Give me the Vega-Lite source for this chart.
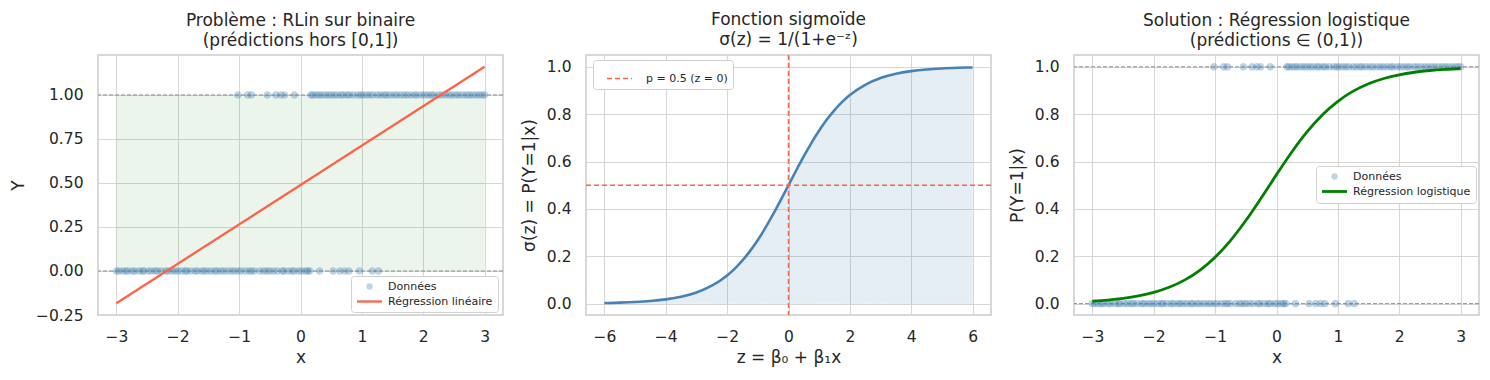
{
  "$schema": "https://vega.github.io/schema/vega-lite/v6.json",
  "padding": {"left": 8, "top": 10, "right": 5, "bottom": 5},
  "background": "white",
  "spacing": 14,
  "datasets": {
    "obs": [
      {"x":-3.0,"y":0},{"x":-2.96,"y":0},{"x":-2.9,"y":0},{"x":-2.85,"y":0},{"x":-2.81,"y":0},{"x":-2.74,"y":0},{"x":-2.7,"y":0},{"x":-2.63,"y":0},{"x":-2.58,"y":0},{"x":-2.55,"y":0},
      {"x":-2.48,"y":0},{"x":-2.43,"y":0},{"x":-2.37,"y":0},{"x":-2.33,"y":0},{"x":-2.27,"y":0},{"x":-2.2,"y":0},{"x":-2.16,"y":0},{"x":-2.1,"y":0},{"x":-2.05,"y":0},{"x":-2.0,"y":0},
      {"x":-1.94,"y":0},{"x":-1.88,"y":0},{"x":-1.85,"y":0},{"x":-1.79,"y":0},{"x":-1.72,"y":0},{"x":-1.68,"y":0},{"x":-1.61,"y":0},{"x":-1.57,"y":0},{"x":-1.52,"y":0},{"x":-1.46,"y":0},
      {"x":-1.4,"y":0},{"x":-1.36,"y":0},{"x":-1.3,"y":0},{"x":-1.25,"y":0},{"x":-1.19,"y":0},{"x":-1.13,"y":0},{"x":-1.08,"y":0},{"x":-1.02,"y":0},{"x":-0.97,"y":0},{"x":-0.9,"y":0},
      {"x":-0.84,"y":0},{"x":-0.8,"y":0},{"x":-0.75,"y":0},{"x":-0.66,"y":0},{"x":-0.6,"y":0},{"x":-0.55,"y":0},{"x":-0.5,"y":0},{"x":-0.44,"y":0},{"x":-0.38,"y":0},{"x":-0.3,"y":0},
      {"x":-0.27,"y":0},{"x":-0.2,"y":0},{"x":-0.14,"y":0},{"x":-0.1,"y":0},{"x":-0.03,"y":0},{"x":0.02,"y":0},{"x":0.08,"y":0},{"x":0.12,"y":0},{"x":0.15,"y":0},{"x":0.31,"y":0},
      {"x":0.53,"y":0},{"x":0.64,"y":0},{"x":0.72,"y":0},{"x":0.79,"y":0},{"x":0.96,"y":0},{"x":1.17,"y":0},{"x":1.27,"y":0},
      {"x":-1.02,"y":1},{"x":-0.86,"y":1},{"x":-0.8,"y":1},{"x":-0.54,"y":1},{"x":-0.4,"y":1},{"x":-0.32,"y":1},{"x":-0.26,"y":1},{"x":-0.1,"y":1},
      {"x":0.17,"y":1},{"x":0.2,"y":1},{"x":0.25,"y":1},{"x":0.3,"y":1},{"x":0.34,"y":1},{"x":0.4,"y":1},{"x":0.45,"y":1},{"x":0.5,"y":1},{"x":0.55,"y":1},{"x":0.6,"y":1},
      {"x":0.66,"y":1},{"x":0.7,"y":1},{"x":0.76,"y":1},{"x":0.8,"y":1},{"x":0.86,"y":1},{"x":0.93,"y":1},{"x":0.98,"y":1},{"x":1.02,"y":1},{"x":1.08,"y":1},{"x":1.13,"y":1},
      {"x":1.18,"y":1},{"x":1.25,"y":1},{"x":1.3,"y":1},{"x":1.36,"y":1},{"x":1.4,"y":1},{"x":1.46,"y":1},{"x":1.52,"y":1},{"x":1.57,"y":1},{"x":1.63,"y":1},{"x":1.69,"y":1},
      {"x":1.74,"y":1},{"x":1.8,"y":1},{"x":1.86,"y":1},{"x":1.9,"y":1},{"x":1.97,"y":1},{"x":2.02,"y":1},{"x":2.08,"y":1},{"x":2.13,"y":1},{"x":2.18,"y":1},{"x":2.25,"y":1},
      {"x":2.3,"y":1},{"x":2.36,"y":1},{"x":2.42,"y":1},{"x":2.47,"y":1},{"x":2.53,"y":1},{"x":2.58,"y":1},{"x":2.64,"y":1},{"x":2.7,"y":1},{"x":2.75,"y":1},{"x":2.8,"y":1},
      {"x":2.86,"y":1},{"x":2.91,"y":1},{"x":2.96,"y":1},{"x":3.0,"y":1}
    ],
    "sigmoid": [
      {"z":-6,"s":0.00247},{"z":-5.5,"s":0.00407},{"z":-5,"s":0.00669},{"z":-4.5,"s":0.01099},{"z":-4,"s":0.01799},{"z":-3.5,"s":0.02931},{"z":-3,"s":0.04743},{"z":-2.5,"s":0.07586},
      {"z":-2,"s":0.1192},{"z":-1.75,"s":0.148},{"z":-1.5,"s":0.1824},{"z":-1.25,"s":0.2227},{"z":-1,"s":0.2689},{"z":-0.75,"s":0.3208},{"z":-0.5,"s":0.3775},{"z":-0.25,"s":0.4378},
      {"z":0,"s":0.5},{"z":0.25,"s":0.5622},{"z":0.5,"s":0.6225},{"z":0.75,"s":0.6792},{"z":1,"s":0.7311},{"z":1.25,"s":0.7773},{"z":1.5,"s":0.8176},{"z":1.75,"s":0.852},
      {"z":2,"s":0.8808},{"z":2.5,"s":0.9241},{"z":3,"s":0.9526},{"z":3.5,"s":0.9707},{"z":4,"s":0.982},{"z":4.5,"s":0.989},{"z":5,"s":0.9933},{"z":5.5,"s":0.9959},{"z":6,"s":0.9975}
    ],
    "logit": [
      {"x":-3,"p":0.01005},{"x":-2.75,"p":0.01488},{"x":-2.5,"p":0.02198},{"x":-2.25,"p":0.03237},{"x":-2,"p":0.04743},{"x":-1.75,"p":0.06897},{"x":-1.5,"p":0.0993},
      {"x":-1.25,"p":0.1409},{"x":-1,"p":0.1962},{"x":-0.75,"p":0.2665},{"x":-0.5,"p":0.3509},{"x":-0.25,"p":0.4458},{"x":0,"p":0.5449},{"x":0.25,"p":0.6405},
      {"x":0.5,"p":0.7261},{"x":0.75,"p":0.7978},{"x":1,"p":0.8545},{"x":1.25,"p":0.8973},{"x":1.5,"p":0.9286},{"x":1.75,"p":0.9508},{"x":2,"p":0.9664},
      {"x":2.25,"p":0.9772},{"x":2.5,"p":0.9846},{"x":2.75,"p":0.9896},{"x":3,"p":0.993}
    ]
  },
  "resolve": {"scale": {"color": "independent", "x": "independent", "y": "independent"}, "legend": {"color": "independent"}},
  "hconcat": [
    {
      "width": 405, "height": 260,
      "title": {"text": ["Problème : RLin sur binaire", "(prédictions hors [0,1])"]},
      "layer": [
        {
          "data": {"values": [{"x1": -3, "x2": 3, "y1": 0, "y2": 1}]},
          "mark": {"type": "rect", "color": "#008000", "opacity": 0.08},
          "encoding": {
            "x": {"field": "x1", "type": "quantitative", "scale": {"domain": [-3.3, 3.3], "nice": false, "zero": false}, "axis": {"values": [-3,-2,-1,0,1,2,3], "format": "d", "title": "x"}},
            "x2": {"field": "x2"},
            "y": {"field": "y1", "type": "quantitative", "scale": {"domain": [-0.25, 1.227], "nice": false, "zero": false}, "axis": {"values": [-0.25,0,0.25,0.5,0.75,1], "format": ".2f", "title": "Y"}},
            "y2": {"field": "y2"}
          }
        },
        {
          "data": {"values": [{"h": 0}, {"h": 1}]},
          "mark": {"type": "rule", "color": "#808080", "strokeWidth": 0.9, "strokeDash": [4, 2]},
          "encoding": {"y": {"field": "h", "type": "quantitative"}}
        },
        {
          "data": {"name": "obs"},
          "mark": {"type": "point", "filled": true, "size": 44, "opacity": 0.35, "stroke": "#4682b4", "strokeWidth": 1},
          "encoding": {
            "x": {"field": "x", "type": "quantitative"},
            "y": {"field": "y", "type": "quantitative"},
            "color": {"datum": "Données"}
          }
        },
        {
          "data": {"values": [{"x": -3, "y": -0.183}, {"x": 3, "y": 1.16}]},
          "mark": {"type": "line", "strokeWidth": 2.3},
          "encoding": {
            "x": {"field": "x", "type": "quantitative"},
            "y": {"field": "y", "type": "quantitative"},
            "color": {"datum": "Régression linéaire", "scale": {"domain": ["Données", "Régression linéaire"], "range": ["#4682b4", "#ff6347"]},
              "legend": {"orient": "none", "legendX": 253, "legendY": 221, "title": null,
                "encode": {"symbols": {"update": {
                  "shape": {"signal": "datum.value === 'Données' ? 'circle' : 'stroke'"},
                  "size": {"signal": "datum.value === 'Données' ? 40 : 625"},
                  "strokeWidth": {"signal": "datum.value === 'Données' ? 0 : 2.3"},
                  "fill": {"signal": "datum.value === 'Données' ? '#4682b4' : 'transparent'"},
                  "stroke": {"signal": "datum.value === 'Données' ? 'transparent' : '#ff6347'"},
                  "opacity": {"signal": "datum.value === 'Données' ? 0.35 : 1"}
                }}}}}
          }
        }
      ]
    },
    {
      "width": 405, "height": 260,
      "title": {"text": ["Fonction sigmoïde", "σ(z) = 1/(1+e⁻ᶻ)"]},
      "layer": [
        {
          "data": {"name": "sigmoid"},
          "mark": {"type": "area", "color": "#4682b4", "opacity": 0.13, "interpolate": "monotone", "stroke": "#4682b4", "strokeWidth": 1, "strokeOpacity": 0.25},
          "encoding": {
            "x": {"field": "z", "type": "quantitative", "scale": {"domain": [-6.6, 6.6], "nice": false, "zero": false}, "axis": {"values": [-6,-4,-2,0,2,4,6], "format": "d", "title": "z = β₀ + β₁x"}},
            "y": {"field": "s", "type": "quantitative", "scale": {"domain": [-0.048, 1.05], "nice": false, "zero": false}, "axis": {"values": [0,0.2,0.4,0.6,0.8,1], "format": ".1f", "title": "σ(z) = P(Y=1|x)"}},
            "y2": {"datum": 0}
          }
        },
        {
          "data": {"name": "sigmoid"},
          "mark": {"type": "line", "color": "#4682b4", "strokeWidth": 2.6, "interpolate": "monotone"},
          "encoding": {
            "x": {"field": "z", "type": "quantitative"},
            "y": {"field": "s", "type": "quantitative"}
          }
        },
        {
          "data": {"values": [{"v": 0}]},
          "mark": {"type": "rule", "color": "#ff6347", "strokeWidth": 1.5, "strokeDash": [5, 3]},
          "encoding": {"x": {"field": "v", "type": "quantitative"}}
        },
        {
          "data": {"values": [{"h": 0.5}]},
          "mark": {"type": "rule", "strokeWidth": 1.5, "strokeDash": [5, 3]},
          "encoding": {
            "y": {"field": "h", "type": "quantitative"},
            "color": {"datum": "p = 0.5 (z = 0)", "scale": {"range": ["#ff6347"]},
              "legend": {"orient": "none", "legendX": 7, "legendY": 5, "title": null, "symbolType": "stroke", "symbolDash": [5, 3], "symbolStrokeWidth": 1.5, "symbolStrokeColor": "#ff6347",
                "encode": {"symbols": {"update": {"size": {"value": 625}, "strokeWidth": {"value": 1.5}, "stroke": {"value": "#ff6347"}, "strokeDash": {"value": [5, 3]}}}}}}
          }
        }
      ]
    },
    {
      "width": 405, "height": 260,
      "title": {"text": ["Solution : Régression logistique", "(prédictions ∈ (0,1))"]},
      "layer": [
        {
          "data": {"values": [{"h": 0}, {"h": 1}]},
          "mark": {"type": "rule", "color": "#808080", "strokeWidth": 0.9, "strokeDash": [4, 2]},
          "encoding": {"y": {"field": "h", "type": "quantitative", "scale": {"domain": [-0.048, 1.05], "nice": false, "zero": false}, "axis": {"values": [0,0.2,0.4,0.6,0.8,1], "format": ".1f", "title": "P(Y=1|x)"}}}
        },
        {
          "data": {"name": "obs"},
          "mark": {"type": "point", "filled": true, "size": 44, "opacity": 0.35, "stroke": "#4682b4", "strokeWidth": 1},
          "encoding": {
            "x": {"field": "x", "type": "quantitative", "scale": {"domain": [-3.3, 3.3], "nice": false, "zero": false}, "axis": {"values": [-3,-2,-1,0,1,2,3], "format": "d", "title": "x"}},
            "y": {"field": "y", "type": "quantitative"},
            "color": {"datum": "Données"}
          }
        },
        {
          "data": {"name": "logit"},
          "mark": {"type": "line", "strokeWidth": 2.8, "interpolate": "monotone"},
          "encoding": {
            "x": {"field": "x", "type": "quantitative"},
            "y": {"field": "p", "type": "quantitative"},
            "color": {"datum": "Régression logistique", "scale": {"domain": ["Données", "Régression logistique"], "range": ["#4682b4", "#008000"]},
              "legend": {"orient": "none", "legendX": 242, "legendY": 111, "title": null,
                "encode": {"symbols": {"update": {
                  "shape": {"signal": "datum.value === 'Données' ? 'circle' : 'stroke'"},
                  "size": {"signal": "datum.value === 'Données' ? 40 : 625"},
                  "strokeWidth": {"signal": "datum.value === 'Données' ? 0 : 2.8"},
                  "fill": {"signal": "datum.value === 'Données' ? '#4682b4' : 'transparent'"},
                  "stroke": {"signal": "datum.value === 'Données' ? 'transparent' : '#008000'"},
                  "opacity": {"signal": "datum.value === 'Données' ? 0.35 : 1"}
                }}}}}
          }
        }
      ]
    }
  ],
  "config": {
    "font": "DejaVu Sans",
    "view": {"stroke": "#cccccc", "strokeWidth": 1.5},
    "axis": {
      "grid": true, "gridColor": "#d6d6d6", "gridWidth": 1,
      "domain": false, "ticks": false,
      "labelFontSize": 15.5, "labelColor": "#262626",
      "titleFontSize": 17, "titleFontWeight": "normal", "titleColor": "#262626"
    },
    "axisX": {"labelPadding": 14, "titlePadding": 5},
    "axisY": {"labelPadding": 15, "titlePadding": 8},
    "title": {"fontSize": 17, "fontWeight": "normal", "color": "#262626", "offset": 5, "anchor": "middle", "lineHeight": 20},
    "legend": {
      "fillColor": "white", "strokeColor": "#d0d0d0", "cornerRadius": 3, "padding": 5,
      "labelFontSize": 11, "labelColor": "#262626", "rowPadding": 3, "labelOffset": 13,
      "symbolSize": 100, "symbolOffset": 8
    }
  }
}
